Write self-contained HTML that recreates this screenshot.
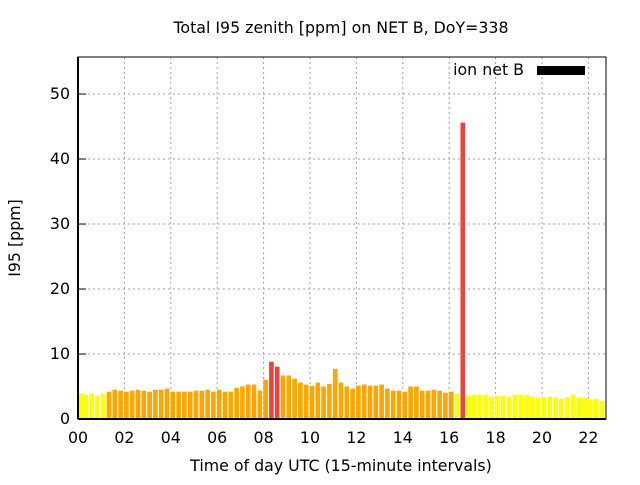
<!DOCTYPE html>
<html><head><meta charset="utf-8"><style>
body{margin:0;background:#fff;}
svg text{font-family:"DejaVu Sans","Liberation Sans",sans-serif;fill:#000;}
</style></head><body>
<svg id="chart" width="640" height="480" xmlns="http://www.w3.org/2000/svg">
<rect width="640" height="480" fill="#fff"/>
<text x="341" y="33" font-size="15.8" text-anchor="middle">Total I95 zenith [ppm] on NET B, DoY=338</text>
<g id="grid"></g>
<g id="bars"></g>
<g id="axes"></g>
<text transform="translate(20,238) rotate(-90)" font-size="15.8" text-anchor="middle">I95 [ppm]</text>
<text x="341" y="471" font-size="15.8" text-anchor="middle">Time of day UTC (15-minute intervals)</text>
<g>
<text x="524" y="75" font-size="15.8" text-anchor="end">ion net B</text>
<rect x="537" y="66" width="48" height="9" fill="#000"/>
</g>
</svg>
<script>
const values = [3.9,3.74,3.9,3.6,3.9,4.2,4.5,4.36,4.2,4.36,4.5,4.36,4.2,4.5,4.5,4.67,4.2,4.2,4.2,4.2,4.36,4.36,4.5,4.2,4.5,4.2,4.2,4.8,5.0,5.3,5.3,4.36,6.05,8.8,8.05,6.7,6.7,6.2,5.6,5.3,5.1,5.6,5.0,5.4,7.7,5.6,5.0,4.67,5.13,5.3,5.13,5.13,5.3,4.67,4.36,4.36,4.2,5.0,5.0,4.36,4.36,4.5,4.36,4.05,4.2,3.9,45.6,3.6,3.74,3.74,3.74,3.44,3.6,3.6,3.44,3.74,3.74,3.74,3.44,3.3,3.3,3.44,3.3,3.1,3.3,3.74,3.3,3.3,3.0,3.1,2.8];
const yTicks = [0,10,20,30,40,50];
const xTickLabels = ["00","02","04","06","08","10","12","14","16","18","20","22"];
const xTickHours = [0,2,4,6,8,10,12,14,16,18,20,22];
const NS="http://www.w3.org/2000/svg";
const L=78,R=606,T=57,B=419;
const xMax=22.76, yMax=55.7;
const sx=h=>L+h/xMax*(R-L);
const sy=v=>B-v/yMax*(B-T);
function mk(tag,attrs,parent){const e=document.createElementNS(NS,tag);for(const k in attrs)e.setAttribute(k,attrs[k]);document.getElementById(parent).appendChild(e);return e;}
yTicks.forEach(v=>{
  const y=sy(v);
  if(v>0){const g=mk('line',{x1:L,x2:R,y1:y,y2:y,stroke:'#a0a0a0','stroke-dasharray':'2,3'},'grid');
  
  }
  mk('line',{x1:L,x2:L+8,y1:y,y2:y,stroke:'#000'},'axes');
  const t=mk('text',{x:L-8,y:y+5,'font-size':15.8,'text-anchor':'end'},'axes');t.textContent=v;
  
  
});
xTickHours.forEach((h,i)=>{
  const x=sx(h);
  if(h>0){const g=mk('line',{x1:x,x2:x,y1:T,y2:B,stroke:'#a0a0a0','stroke-dasharray':'2,3'},'grid');
  
  }
  const t=mk('text',{x:x,y:443,'font-size':15.8,'text-anchor':'middle'},'axes');t.textContent=xTickLabels[i];
  
  
});
const bw=(sx(0.25)-sx(0));
values.forEach((v,i)=>{
  const c=(i+0.35)*0.25;
  const col=v>8?'#f04040':(v>=4?'#ffa500':'#ffff00');
  const r=mk('rect',{x:Math.max(L+1,sx(c)-bw*0.4),width:bw*0.8,y:sy(v),height:B-sy(v),fill:col},'bars');
  
  
});
const f=mk('rect',{x:L,y:T,width:R-L,height:B-T,fill:'none',stroke:'#000','stroke-width':1},'axes');


mk('line',{x1:L,x2:R,y1:B,y2:B,stroke:'#000','stroke-width':2},'axes');
mk('line',{x1:L,x2:L,y1:T,y2:B,stroke:'#000','stroke-width':2},'axes');
</script>
</body></html>
